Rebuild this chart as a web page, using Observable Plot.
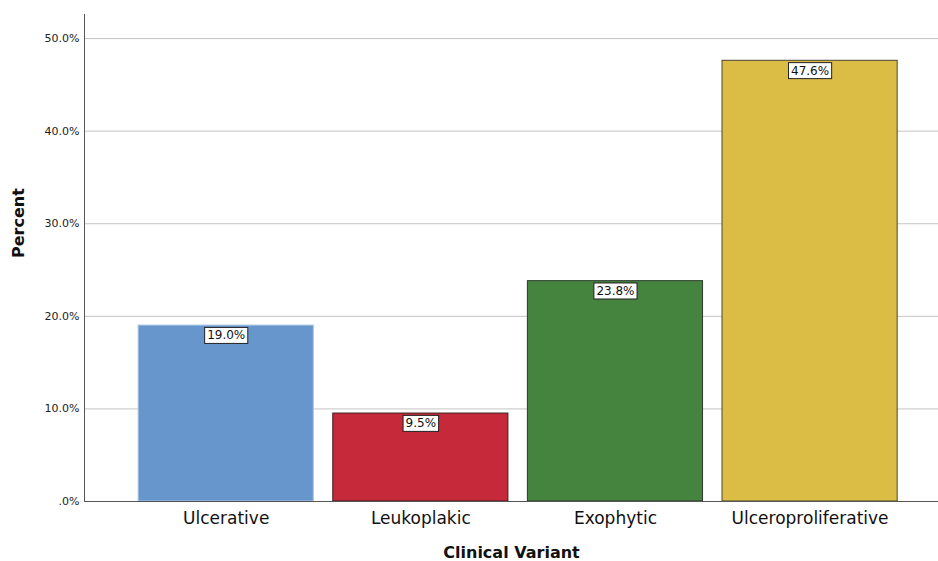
<!DOCTYPE html>
<html>
<head>
<meta charset="utf-8">
<script src="https://cdn.jsdelivr.net/npm/d3@7"></script>
<script src="https://cdn.jsdelivr.net/npm/@observablehq/plot@0.6"></script>
<style>
  html, body { margin: 0; padding: 0; background: #fff; }
  #chart svg { display: block; }
</style>
</head>
<body>
<div id="chart"></div>
<script>
// Clinical variant distribution (percent of cases)
const variants = ["Ulcerative", "Leukoplakic", "Exophytic", "Ulceroproliferative"];
const percents = [19.0, 9.5, 23.8, 47.6];
const fills = ["#6796cd", "#c62a3a", "#44843e", "#dbbd46"];
const strokes = ["#a9c3e2", "#3a2020", "#2c3a2a", "#4a4430"];
const yTicks = [0, 10, 20, 30, 40, 50];

const data = variants.map((v, i) => ({variant: v, pct: percents[i], fill: fills[i], stroke: strokes[i]}));

const fmtTick = d => d === 0 ? ".0%" : d.toFixed(1) + "%";
const fmtLabel = d => d.toFixed(1) + "%";

const plot = Plot.plot({
  width: 938,
  height: 561,
  marginLeft: 84,
  marginRight: 0,
  marginTop: 14,
  marginBottom: 60,
  style: {fontFamily: "DejaVu Sans, sans-serif", background: "#fff"},
  x: {domain: variants, paddingInner: 0.1, paddingOuter: 0.244, align: 0.57, round: false, label: null},
  y: {domain: [0, 52.6], label: null},
  marks: [
    Plot.gridY(yTicks, {stroke: "#c4c4c4", strokeOpacity: 1, strokeWidth: 1}),
    Plot.barY(data, {x: "variant", y: "pct", fill: "fill", stroke: "stroke", strokeWidth: 1}),
    Plot.ruleY([0], {stroke: "#555", strokeWidth: 1}),
    Plot.axisY(yTicks, {tickFormat: fmtTick, tickSize: 0, tickPadding: 5, fontSize: 11, fill: "#222", label: null}),
    Plot.axisX({tickSize: 0, tickPadding: 10, fontSize: 17, fill: "#111", label: null}),
    Plot.text(["Clinical Variant"], {frameAnchor: "bottom", dy: 56, fontSize: 16, fontWeight: "bold", fill: "#111"}),
    Plot.text(["Percent"], {frameAnchor: "left", dx: -66, rotate: -90, fontSize: 16, fontWeight: "bold", fill: "#111"}),
    Plot.text(data, {x: "variant", y: "pct", text: d => fmtLabel(d.pct), dy: 10, fontSize: 12, fill: "#111", className: "vlabel"})
  ]
});

document.getElementById("chart").appendChild(plot);
const svg = d3.select(plot);

// Y axis line along the left edge of the frame
svg.append("line")
  .attr("x1", 84.5).attr("x2", 84.5)
  .attr("y1", 14).attr("y2", 501)
  .attr("stroke", "#555").attr("stroke-width", 1);

// White boxes behind the value labels
svg.selectAll("g.vlabel text").each(function() {
  const b = this.getBBox();
  const t = this.getAttribute("transform");
  d3.select(this.parentNode).insert("rect", () => this)
    .attr("x", b.x - 2.5).attr("y", b.y - 1)
    .attr("width", b.width + 5).attr("height", b.height + 2)
    .attr("transform", t)
    .attr("fill", "#fff").attr("stroke", "#222").attr("stroke-width", 1);
});
</script>
</body>
</html>
